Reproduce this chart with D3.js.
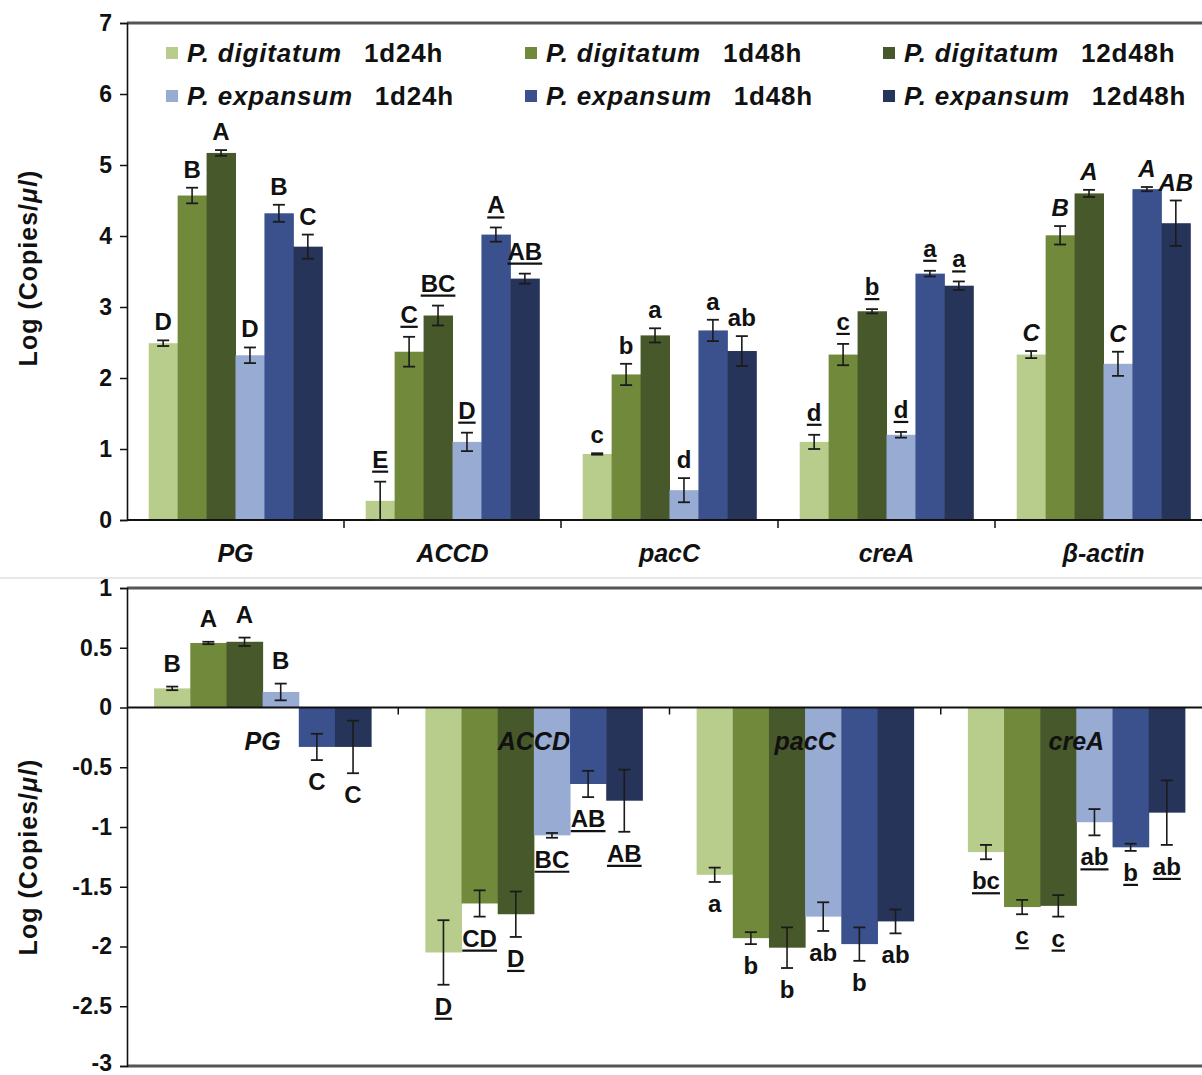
<!DOCTYPE html>
<html>
<head>
<meta charset="utf-8">
<script src="https://cdn.jsdelivr.net/npm/d3@7"></script>
<style>
  body { margin: 0; background: #fff; }
  svg { display: block; font-family: "Liberation Sans", Arial, sans-serif; }
</style>
</head>
<body>
<div id="chart"></div>
<script>
// series (same order in both panels)
var species = ['P. digitatum', 'P. digitatum', 'P. digitatum', 'P. expansum', 'P. expansum', 'P. expansum'];
var times = ['1d24h', '1d48h', '12d48h', '1d24h', '1d48h', '12d48h'];
var colors = ['#b8cc8c', '#71893b', '#47592a', '#97abd3', '#3b518d', '#27345a'];

// top panel: absolute quantity
var topGenes = ['PG', 'ACCD', 'pacC', 'creA', 'β-actin'];
var topValues = [
  [2.49, 4.57, 5.17, 2.32, 4.32, 3.85],
  [0.27, 2.37, 2.88, 1.10, 4.02, 3.40],
  [0.93, 2.05, 2.60, 0.42, 2.67, 2.38],
  [1.10, 2.33, 2.94, 1.20, 3.47, 3.30],
  [2.33, 4.01, 4.60, 2.20, 4.66, 4.18]
];
var topErrors = [
  [0.04, 0.11, 0.04, 0.11, 0.12, 0.17],
  [0.27, 0.21, 0.14, 0.13, 0.10, 0.07],
  [0.01, 0.15, 0.10, 0.17, 0.15, 0.21],
  [0.10, 0.15, 0.03, 0.04, 0.04, 0.06],
  [0.05, 0.13, 0.05, 0.17, 0.03, 0.32]
];
var topLetters = [
  ['D', 'B', 'A', 'D', 'B', 'C'],
  ['E', 'C', 'BC', 'D', 'A', 'AB'],
  ['c', 'b', 'a', 'd', 'a', 'ab'],
  ['d', 'c', 'b', 'd', 'a', 'a'],
  ['C', 'B', 'A', 'C', 'A', 'AB']
];
var topLetterStyle = ['plain', 'underline', 'plain', 'underline', 'italic'];
var topTicks = [0, 1, 2, 3, 4, 5, 6, 7];

// bottom panel: relative change
var bottomGenes = ['PG', 'ACCD', 'pacC', 'creA'];
var bottomValues = [
  [0.16, 0.54, 0.55, 0.13, -0.33, -0.33],
  [-2.05, -1.64, -1.73, -1.07, -0.64, -0.78],
  [-1.40, -1.93, -2.01, -1.75, -1.98, -1.79],
  [-1.21, -1.67, -1.66, -0.96, -1.17, -0.88]
];
var bottomErrors = [
  [0.015, 0.01, 0.035, 0.07, 0.11, 0.22],
  [0.27, 0.11, 0.19, 0.02, 0.11, 0.26],
  [0.06, 0.05, 0.17, 0.12, 0.14, 0.10],
  [0.06, 0.06, 0.09, 0.11, 0.03, 0.27]
];
var bottomLetters = [
  ['B', 'A', 'A', 'B', 'C', 'C'],
  ['D', 'CD', 'D', 'BC', 'AB', 'AB'],
  ['a', 'b', 'b', 'ab', 'b', 'ab'],
  ['bc', 'c', 'c', 'ab', 'b', 'ab']
];
var bottomLetterStyle = ['plain', 'underline', 'plain', 'underline'];
var bottomTicks = [1, 0.5, 0, -0.5, -1, -1.5, -2, -2.5, -3];

var width = 1202, height = 1075;
var axisX = 127, plotRight = 1212;

var svg = d3.select('#chart').append('svg')
  .attr('width', width)
  .attr('height', height);

// faint frame edge between the two figures
svg.append('line')
  .attr('x1', 0).attr('x2', width)
  .attr('y1', 578).attr('y2', 578)
  .attr('stroke', '#e8e8e8').attr('stroke-width', 2);

function drawPanel(opt) {
  var g = svg.append('g');
  var y = d3.scaleLinear().domain(opt.domain).range([opt.bottom, opt.top]);
  var x0 = d3.scaleBand().domain(opt.genes).range([axisX, plotRight]).paddingInner(0).paddingOuter(0);
  var x1 = d3.scaleBand().domain(d3.range(6))
    .range([x0.bandwidth() * 0.1, x0.bandwidth() * 0.9]).padding(0);
  var bw = x1.bandwidth();

  // frame lines
  g.append('line')
    .attr('x1', axisX).attr('x2', width)
    .attr('y1', y(opt.domain[1])).attr('y2', y(opt.domain[1]))
    .attr('stroke', '#555').attr('stroke-width', 3);
  if (opt.bottomFrame) {
    g.append('line')
      .attr('x1', axisX).attr('x2', width)
      .attr('y1', y(opt.domain[0])).attr('y2', y(opt.domain[0]))
      .attr('stroke', '#555').attr('stroke-width', 3);
  }

  // bars
  opt.genes.forEach(function(gene, gi) {
    var grp = g.append('g').attr('transform', 'translate(' + x0(gene) + ',0)');
    grp.selectAll('rect')
      .data(opt.values[gi])
      .enter().append('rect')
      .attr('x', function(d, i) { return x1(i); })
      .attr('width', bw + 0.5)
      .attr('y', function(d) { return y(Math.max(0, d)); })
      .attr('height', function(d) { return Math.abs(y(d) - y(0)); })
      .attr('fill', function(d, i) { return colors[i]; });
  });

  // y axis
  var yAxis = d3.axisLeft(y).tickValues(opt.ticks).tickSize(7).tickPadding(8)
    .tickFormat(function(d) { return String(d); });
  var ya = g.append('g').attr('transform', 'translate(' + axisX + ',0)').call(yAxis);
  ya.select('.domain').attr('stroke', '#111').attr('stroke-width', 1.6);
  ya.selectAll('.tick line').attr('stroke', '#111').attr('stroke-width', 1.5);
  ya.selectAll('text')
    .attr('font-size', '23px').attr('font-weight', 'bold').attr('fill', '#111');
  // keep the lowest label inside the picture
  ya.selectAll('.tick text')
    .filter(function(d) { return d === opt.domain[0] && opt.bottomFrame; })
    .attr('dy', '0.18em');

  // x axis line with ticks at category boundaries
  var bounds = opt.genes.map(function(d) { return x0(d); }).slice(1);
  g.append('line')
    .attr('x1', axisX).attr('x2', width)
    .attr('y1', y(0)).attr('y2', y(0))
    .attr('stroke', '#111').attr('stroke-width', 2);
  g.selectAll('.xtick').data(bounds).enter().append('line')
    .attr('x1', function(d) { return d; }).attr('x2', function(d) { return d; })
    .attr('y1', y(0)).attr('y2', y(0) + opt.xTickLen)
    .attr('stroke', '#111').attr('stroke-width', 1.5);

  // category labels
  g.selectAll('.cat').data(opt.genes).enter().append('text')
    .attr('x', function(d) { return x0(d) + x0.bandwidth() / 2; })
    .attr('y', opt.catY)
    .attr('text-anchor', 'middle')
    .attr('font-size', '25px').attr('font-weight', 'bold').attr('font-style', 'italic')
    .attr('fill', '#111')
    .text(function(d) { return d; });

  // error bars and letters
  opt.genes.forEach(function(gene, gi) {
    var style = opt.letterStyle[gi];
    opt.values[gi].forEach(function(v, i) {
      var e = opt.errors[gi][i];
      var cx = x0(gene) + x1(i) + bw / 2;
      var cap = opt.capW / 2;
      var hi = y(v + e), lo = y(v - e);
      g.append('line').attr('x1', cx).attr('x2', cx).attr('y1', hi).attr('y2', lo)
        .attr('stroke', '#1b1b1b').attr('stroke-width', 1.6);
      [hi, lo].forEach(function(yy) {
        g.append('line').attr('x1', cx - cap).attr('x2', cx + cap).attr('y1', yy).attr('y2', yy)
          .attr('stroke', '#1b1b1b').attr('stroke-width', 1.8);
      });

      var above = v >= 0;
      var ty = above ? hi - opt.gapAbove - (style === 'underline' ? 4 : 0) : lo + opt.gapBelow;
      var t = g.append('text')
        .attr('x', cx).attr('y', ty)
        .attr('text-anchor', 'middle')
        .attr('font-size', '24px').attr('font-weight', 'bold')
        .attr('font-style', style === 'italic' ? 'italic' : 'normal')
        .attr('fill', '#111')
        .text(opt.letters[gi][i]);
      if (style === 'underline') {
        var w = t.node().getComputedTextLength();
        g.append('line')
          .attr('x1', cx - w / 2).attr('x2', cx + w / 2)
          .attr('y1', ty + 4).attr('y2', ty + 4)
          .attr('stroke', '#111').attr('stroke-width', 2.2);
      }
    });
  });

  // y axis title
  var title = g.append('text')
    .attr('transform', 'translate(37,' + opt.titleY + ') rotate(-90)')
    .attr('text-anchor', 'middle')
    .attr('font-size', '25px').attr('font-weight', 'bold').attr('fill', '#111')
    .attr('letter-spacing', '1px');
  title.append('tspan').text('Log (Copies/');
  title.append('tspan').attr('font-style', 'italic').text('μl');
  title.append('tspan').text(')');
}

drawPanel({
  genes: topGenes, values: topValues, errors: topErrors,
  letters: topLetters, letterStyle: topLetterStyle, ticks: topTicks,
  domain: [0, 7], top: 23, bottom: 520, bottomFrame: false,
  xTickLen: 8, catY: 562, capW: 12, gapAbove: 10, gapBelow: 30, titleY: 268
});

drawPanel({
  genes: bottomGenes, values: bottomValues, errors: bottomErrors,
  letters: bottomLetters, letterStyle: bottomLetterStyle, ticks: bottomTicks,
  domain: [-3, 1], top: 588, bottom: 1066, bottomFrame: true,
  xTickLen: 7, catY: 750, capW: 12, gapAbove: 15, gapBelow: 30, titleY: 857
});

// legend
var legend = svg.append('g').attr('class', 'legend');
var colX = [166, 525, 883];
var rowY = [62, 105];
species.forEach(function(sp, i) {
  var col = i % 3, row = Math.floor(i / 3);
  var item = legend.append('g')
    .attr('transform', 'translate(' + colX[col] + ',' + rowY[row] + ')');
  item.append('rect')
    .attr('x', 0).attr('y', -15).attr('width', 12).attr('height', 12)
    .attr('fill', colors[i]);
  var spText = item.append('text')
    .attr('x', 21).attr('y', 0)
    .attr('font-size', '26px').attr('font-weight', 'bold').attr('font-style', 'italic')
    .attr('letter-spacing', '0.8px')
    .attr('fill', '#111')
    .text(sp);
  var w = spText.node().getComputedTextLength();
  item.append('text')
    .attr('x', 21 + w + 22).attr('y', 0)
    .attr('font-size', '26px').attr('font-weight', 'bold')
    .attr('letter-spacing', '0.8px')
    .attr('fill', '#111')
    .text(times[i]);
});
</script>
</body>
</html>
